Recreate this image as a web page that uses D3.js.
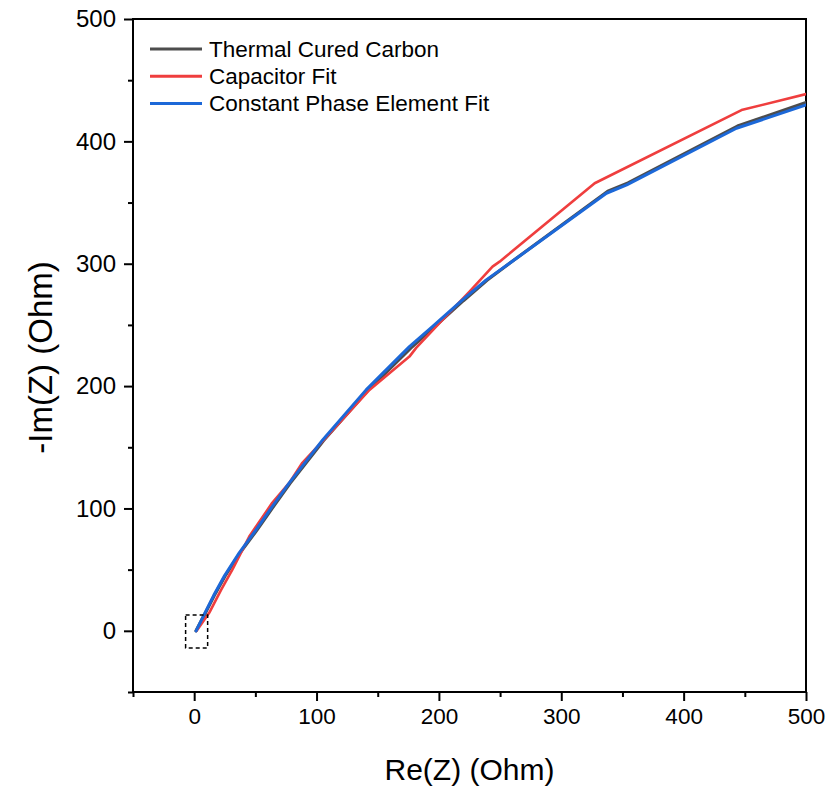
<!DOCTYPE html>
<html>
<head>
<meta charset="utf-8">
<script src="https://cdn.jsdelivr.net/npm/d3@7/dist/d3.min.js"></script>
<style>
  html, body { margin: 0; padding: 0; background: #fff; }
  svg text { font-family: Arial, "Liberation Sans", sans-serif; fill: #000; }
</style>
</head>
<body>
<svg id="chart" width="829" height="787"></svg>
<script>
// Nyquist data: Re(Z) and -Im(Z) in Ohm
const seriesNames = ["Thermal Cured Carbon", "Capacitor Fit", "Constant Phase Element Fit"];
const seriesColors = ["#4d4d4d", "#ef3e3e", "#1c68d8"];

const measuredRe = [1.5, 8.2, 16.3, 25.4, 37.2, 51.0, 64.3, 78.2, 105.6, 141.5, 177.0, 195.5, 220.0, 239.3, 258.3, 338.0, 354.5, 444.0, 500.0];
const measuredIm = [0.0, 12.8, 28.6, 45.0, 63.3, 82.0, 101.0, 120.3, 155.3, 196.0, 231.0, 247.6, 269.8, 286.5, 300.8, 359.2, 366.0, 412.5, 431.8];

const capFitRe = [2.0, 12.3, 22.0, 31.1, 45.0, 63.8, 77.7, 88.4, 115.9, 143.2, 175.9, 181.4, 202.9, 225.0, 243.8, 249.6, 327.3, 447.3, 500.0];
const capFitIm = [0.0, 14.7, 33.5, 49.8, 77.0, 104.6, 120.9, 137.3, 166.9, 196.9, 224.1, 231.2, 254.1, 277.2, 297.6, 301.7, 365.8, 425.6, 438.6];

const cpeFitRe = [1.6, 8.0, 16.0, 25.0, 36.8, 50.5, 63.8, 77.7, 105.0, 140.5, 175.9, 194.7, 219.3, 238.7, 257.8, 336.9, 353.5, 443.2, 500.0];
const cpeFitIm = [0.0, 13.0, 29.0, 45.4, 63.7, 82.5, 101.6, 120.9, 156.0, 196.9, 232.3, 248.6, 270.4, 286.8, 300.4, 357.6, 364.4, 410.7, 429.7];

const xMajorTicks = [0, 100, 200, 300, 400, 500];
const yMajorTicks = [0, 100, 200, 300, 400, 500];
const minorTicks = [-50, 50, 150, 250, 350, 450];

// Dashed region around the origin
const zoomBoxRe = [-7, 11];
const zoomBoxIm = [-14, 13];

const margin = { left: 133, top: 19, right: 829 - 806, bottom: 787 - 692 };
const W = 829, H = 787;
const pw = W - margin.left - margin.right;
const ph = H - margin.top - margin.bottom;

const svg = d3.select("#chart");
const g = svg.append("g").attr("transform", `translate(${margin.left},${margin.top})`);

const x = d3.scaleLinear().domain([-50, 500]).range([0, pw]);
const y = d3.scaleLinear().domain([-50, 500]).range([ph, 0]);

g.append("defs").append("clipPath").attr("id", "plotClip")
  .append("rect").attr("x", 0).attr("y", 0).attr("width", pw).attr("height", ph);

// Axes with outward ticks
const xAxis = g.append("g").attr("transform", `translate(0,${ph})`)
  .call(d3.axisBottom(x).tickValues(xMajorTicks).tickSize(9).tickPadding(7).tickFormat(d3.format("d")));
const xMinor = g.append("g").attr("transform", `translate(0,${ph})`)
  .call(d3.axisBottom(x).tickValues(minorTicks).tickSize(5).tickFormat(""));
const yAxis = g.append("g")
  .call(d3.axisLeft(y).tickValues(yMajorTicks).tickSize(9).tickPadding(8).tickFormat(d3.format("d")));
const yMinor = g.append("g")
  .call(d3.axisLeft(y).tickValues(minorTicks).tickSize(5).tickFormat(""));

[xAxis, xMinor, yAxis, yMinor].forEach(a => {
  a.select(".domain").remove();
  a.selectAll(".tick line").attr("stroke", "#000").attr("stroke-width", 2);
  a.selectAll(".tick text").attr("fill", "#000")
    .style("font-family", "Arial, 'Liberation Sans', sans-serif");
});
xAxis.selectAll(".tick text").attr("font-size", 22.5);
yAxis.selectAll(".tick text").attr("font-size", 24);

// Frame
g.append("rect").attr("x", 0).attr("y", 0).attr("width", pw).attr("height", ph)
  .attr("fill", "none").attr("stroke", "#000").attr("stroke-width", 2);

// Axis titles
svg.append("text")
  .attr("x", margin.left + x(225)).attr("y", 780)
  .attr("text-anchor", "middle").attr("font-size", 30)
  .text("Re(Z) (Ohm)");
svg.append("text")
  .attr("transform", `translate(52,${margin.top + y(225) + 2}) rotate(-90)`)
  .attr("text-anchor", "middle").attr("font-size", 33)
  .text("-Im(Z) (Ohm)");

// Curves
const series = [
  { re: measuredRe, im: measuredIm, w: 3.2 },
  { re: capFitRe, im: capFitIm, w: 2.6 },
  { re: cpeFitRe, im: cpeFitIm, w: 3.0 }
];
const line = d3.line().x(d => x(d[0])).y(d => y(d[1]));
const curves = g.append("g").attr("clip-path", "url(#plotClip)");
series.forEach((s, i) => {
  curves.append("path")
    .datum(s.re.map((v, k) => [v, s.im[k]]))
    .attr("d", line)
    .attr("fill", "none")
    .attr("stroke", seriesColors[i])
    .attr("stroke-width", s.w)
    .attr("stroke-linejoin", "round")
    .attr("stroke-linecap", "round");
});

// Dashed box marking the origin region
g.append("rect")
  .attr("x", x(zoomBoxRe[0])).attr("y", y(zoomBoxIm[1]))
  .attr("width", x(zoomBoxRe[1]) - x(zoomBoxRe[0]))
  .attr("height", y(zoomBoxIm[0]) - y(zoomBoxIm[1]))
  .attr("fill", "none").attr("stroke", "#000").attr("stroke-width", 1.5)
  .attr("stroke-dasharray", "4,3");

// Legend
const legend = svg.append("g").attr("transform", "translate(150,49)");
seriesNames.forEach((name, i) => {
  const row = legend.append("g").attr("transform", `translate(0,${i * 27.2})`);
  row.append("line").attr("x1", 0).attr("x2", 52).attr("y1", 0).attr("y2", 0)
    .attr("stroke", seriesColors[i]).attr("stroke-width", 3);
  row.append("text").attr("x", 59).attr("y", 0).attr("dy", "0.35em")
    .attr("font-size", 22.5).text(name);
});
</script>
</body>
</html>
